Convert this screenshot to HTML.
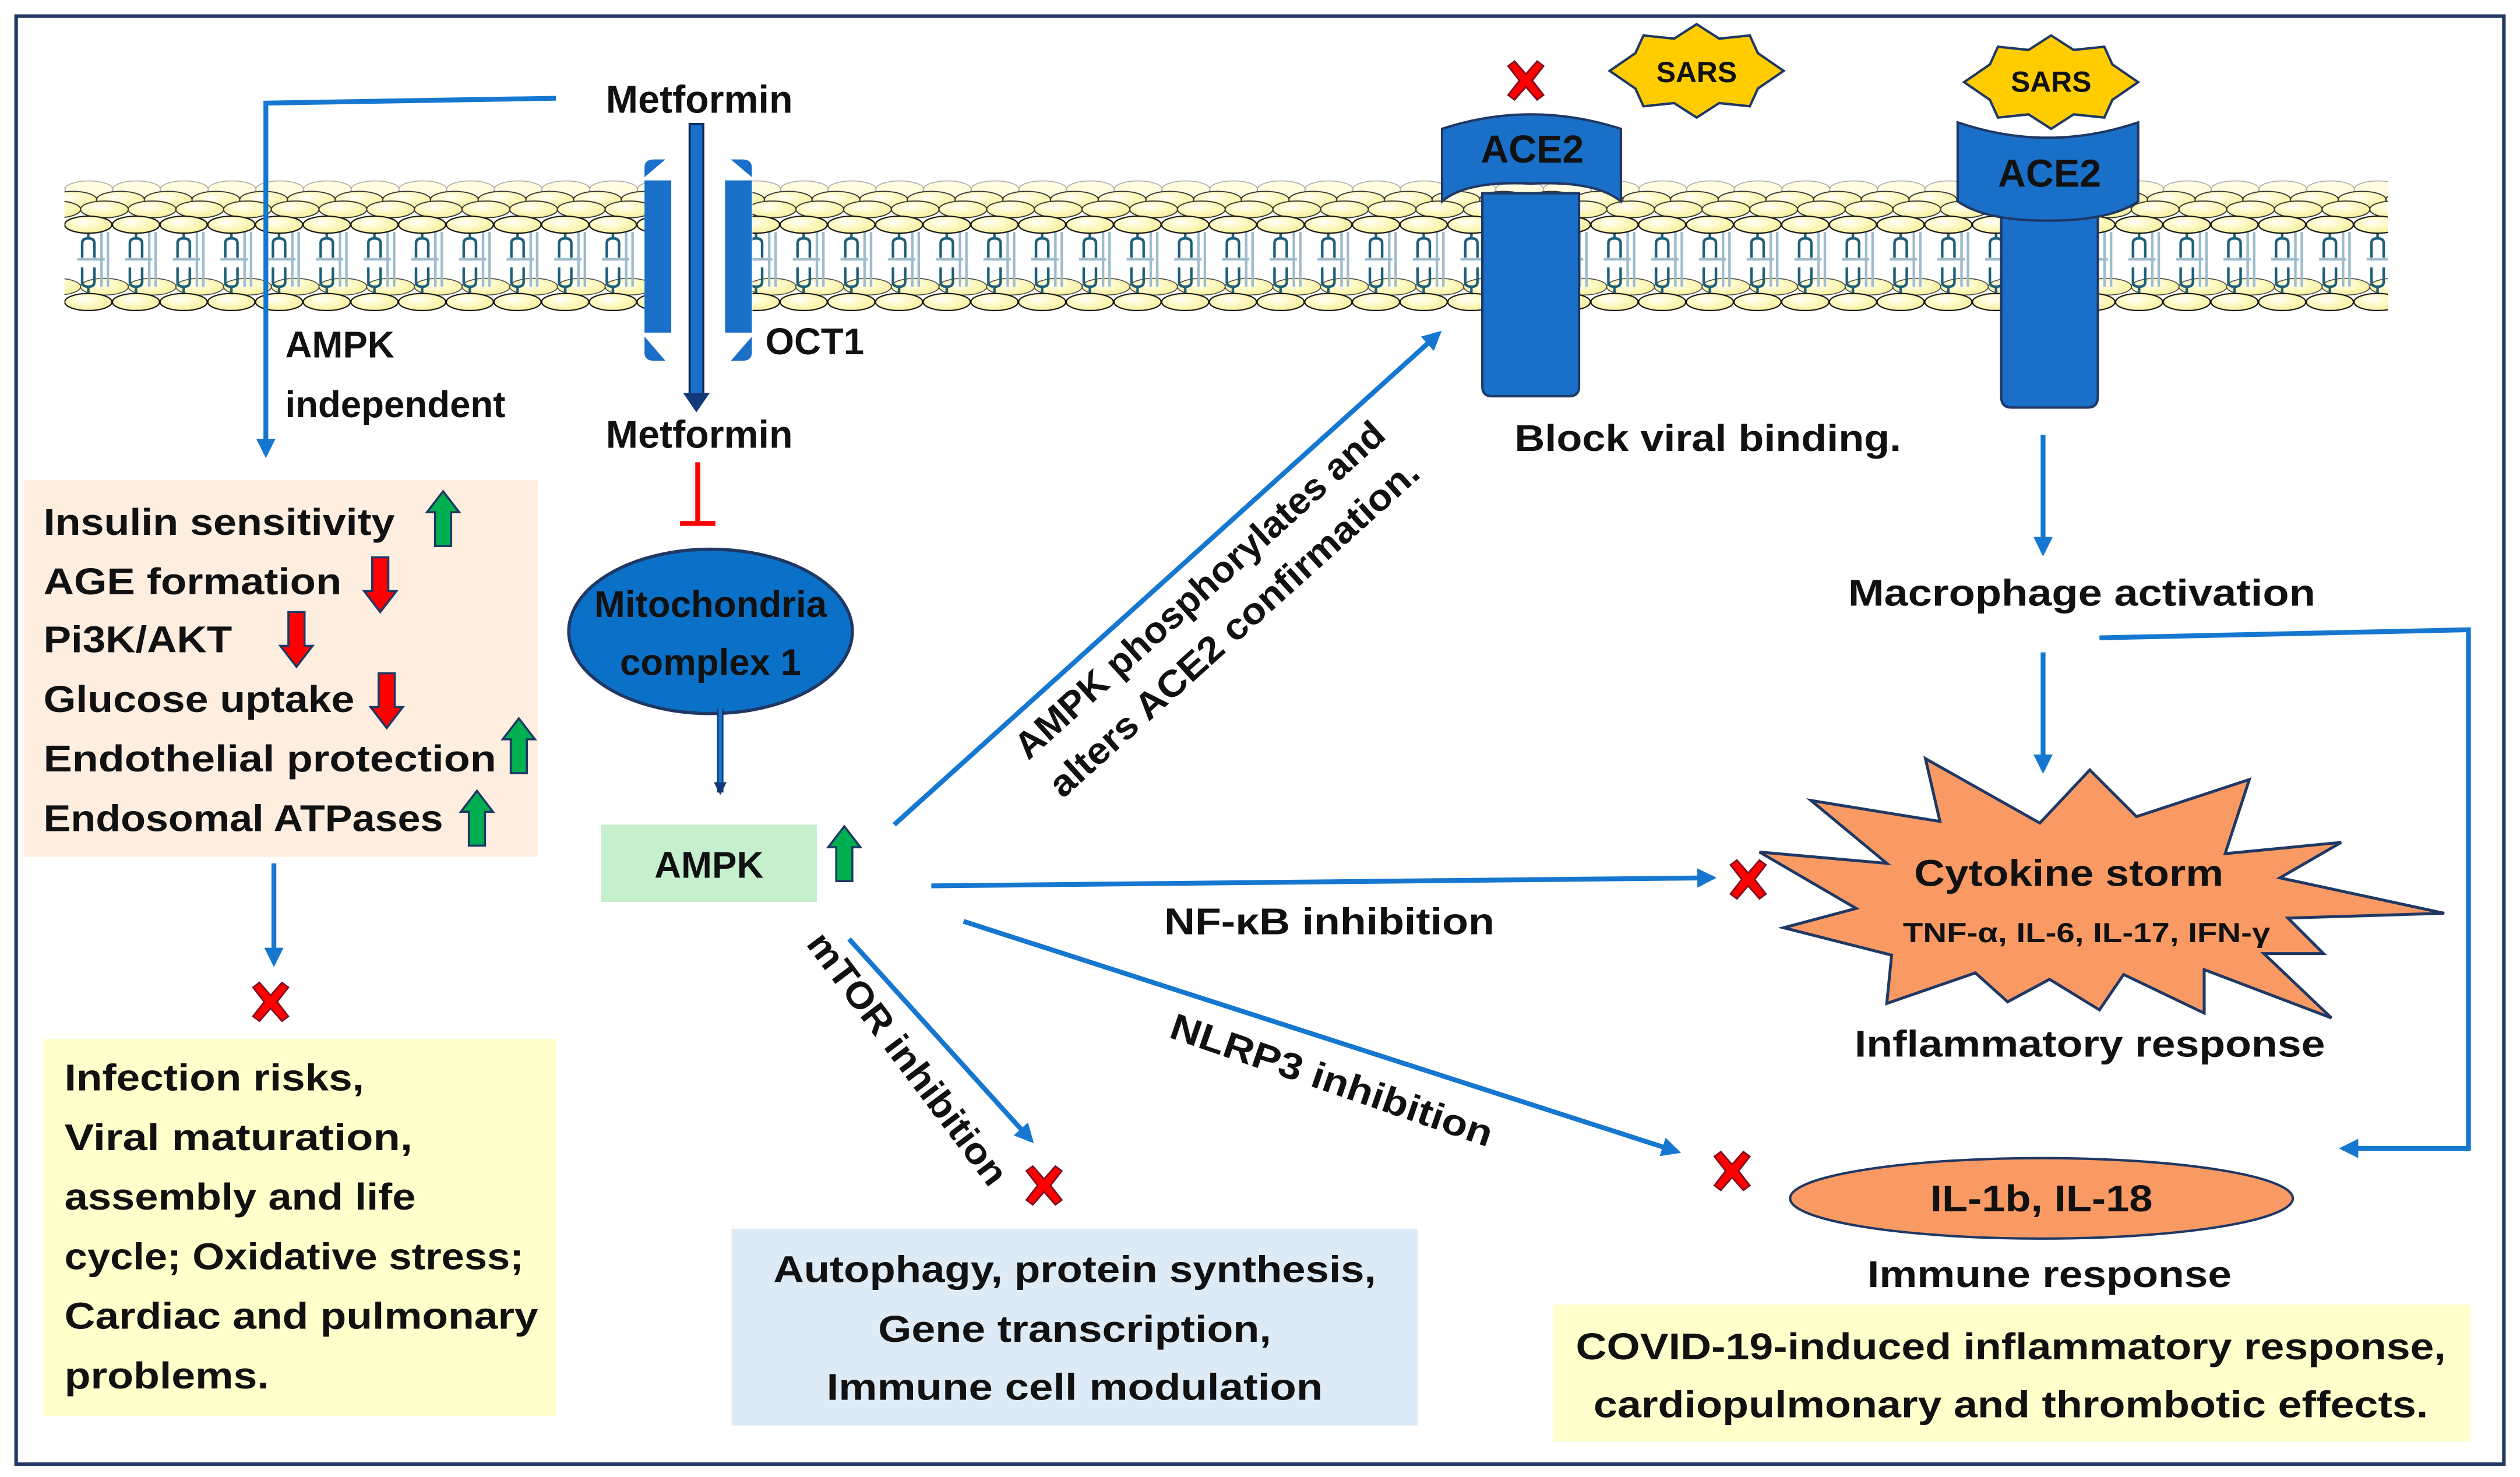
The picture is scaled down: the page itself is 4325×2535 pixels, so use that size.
<!DOCTYPE html>
<html><head><meta charset="utf-8"><style>
html,body{margin:0;padding:0;background:#fff;}
svg{display:block;}
text{font-family:"Liberation Sans",sans-serif;font-weight:bold;fill:#111;}
</style></head><body>
<svg width="4325" height="2535" viewBox="0 0 1564 917" preserveAspectRatio="none" xmlns="http://www.w3.org/2000/svg">
<defs>
<radialGradient id="hg" cx="0.4" cy="0.35" r="0.7">
 <stop offset="0" stop-color="#ffffff"/><stop offset="0.35" stop-color="#fffbd0"/><stop offset="1" stop-color="#f6ef9a"/>
</radialGradient>
<pattern id="mem" patternUnits="userSpaceOnUse" x="40" y="100" width="29.6" height="95">
 <g fill="#fffce0" stroke="#aaa" stroke-width="0.6">
  <ellipse cx="-14.4" cy="17.5" rx="14.8" ry="5.2"/><ellipse cx="15.2" cy="17.5" rx="14.8" ry="5.2"/><ellipse cx="44.8" cy="17.5" rx="14.8" ry="5.2"/>
 </g>
 <g fill="url(#hg)" stroke="#333" stroke-width="0.7">
  <ellipse cx="-24.4" cy="24" rx="14.8" ry="5.2"/><ellipse cx="5.2" cy="24" rx="14.8" ry="5.2"/><ellipse cx="34.8" cy="24" rx="14.8" ry="5.2"/>
  <ellipse cx="-4.8" cy="30" rx="14.8" ry="5.2"/><ellipse cx="24.8" cy="30" rx="14.8" ry="5.2"/><ellipse cx="54.4" cy="30" rx="14.8" ry="5.2"/>
 </g>
 <g fill="url(#hg)" stroke="#444" stroke-width="0.6">
  <ellipse cx="-4.8" cy="78" rx="14.8" ry="5.2"/><ellipse cx="24.8" cy="78" rx="14.8" ry="5.2"/><ellipse cx="54.4" cy="78" rx="14.8" ry="5.2"/>
 </g>
 <g stroke="#9dbccc" stroke-width="1.6" fill="none">
  <path d="M23,44 V78 M27,44 V78 M8,61 H25"/>
 </g>
 <g stroke="#1d5f78" stroke-width="1.6" fill="none">
  <path d="M14.8,44 V48 M11,60 V51 Q11,48 14.8,48 Q18.6,48 18.6,51 V60 M11,66 V75 Q11,78 14.8,78 Q18.6,78 18.6,75 V66 M14.8,78 V83"/>
 </g>
 <g fill="url(#hg)" stroke="#111" stroke-width="0.8">
  <ellipse cx="14.8" cy="39.5" rx="14.6" ry="5.3"/><ellipse cx="44.4" cy="39.5" rx="14.6" ry="5.3"/><ellipse cx="-14.8" cy="39.5" rx="14.6" ry="5.3"/>
  <ellipse cx="14.8" cy="87.5" rx="14.6" ry="5.3"/><ellipse cx="44.4" cy="87.5" rx="14.6" ry="5.3"/><ellipse cx="-14.8" cy="87.5" rx="14.6" ry="5.3"/>
 </g>
</pattern>
<marker id="ah" viewBox="0 0 10 10" refX="8" refY="5" markerWidth="4" markerHeight="4" orient="auto-start-reverse" markerUnits="strokeWidth">
 <path d="M0,0 L10,5 L0,10 Z" fill="#1577cf"/>
</marker>
<marker id="ahn" viewBox="0 0 10 10" refX="8" refY="5" markerWidth="4" markerHeight="4" orient="auto" markerUnits="strokeWidth">
 <path d="M0,0 L10,5 L0,10 Z" fill="#123a7a"/>
</marker>
<g id="up"><path d="M0,-17 L10,-4 L5,-4 L5,17 L-5,17 L-5,-4 L-10,-4 Z" fill="#00b050" stroke="#1f3864" stroke-width="1.3"/></g>
<g id="dn"><path d="M0,17 L10,4 L5,4 L5,-17 L-5,-17 L-5,4 L-10,4 Z" fill="#ff0000" stroke="#1f3864" stroke-width="1.3"/></g>
<g id="x"><path d="M-11,-9 L-7,-12 L0,-4 L7,-12 L11,-9 L4,0 L11,9 L7,12 L0,4 L-7,12 L-11,9 L-4,0 Z" fill="#ff0000" stroke="#7a1020" stroke-width="1"/></g>
</defs>
<rect x="0" y="0" width="1564" height="917" fill="#fff"/>
<rect x="10" y="10" width="1544" height="899" fill="none" stroke="#1f3864" stroke-width="2.2"/>

<!-- membrane -->
<rect x="40" y="108" width="1442" height="87" fill="url(#mem)"/>

<!-- OCT1 transporter -->
<rect x="400" y="96" width="67" height="132" fill="#fff"/>
<g fill="#1a6fc8">
 <rect x="400" y="112" width="16.6" height="94.5"/>
 <rect x="450" y="112" width="16.6" height="94.5"/>
 <path d="M400,110 L400,104 Q400,99 406,99 L413,99 Z"/>
 <path d="M466.6,110 L466.6,104 Q466.6,99 460.6,99 L453.6,99 Z"/>
 <path d="M400,209 L400,219 Q400,224 406,224 L413,224 Z"/>
 <path d="M466.6,209 L466.6,219 Q466.6,224 460.6,224 L453.6,224 Z"/>
</g>
<rect x="428" y="77" width="8.5" height="168" fill="#1a6fc8" stroke="#0f2a5a" stroke-width="1.3"/>
<path d="M424,244 L440.5,244 L432.2,256 Z" fill="#123a7a"/>

<!-- ACE2 left -->
<g fill="#1a6fc8" stroke="#1f3864" stroke-width="1.5">
 <path d="M920,120 L980,120 L980,240 Q980,246 974,246 L926,246 Q920,246 920,240 Z"/>
 <path d="M895,80 Q950,62 1006,80 L1006,125 Q990,112 950,114 Q910,112 895,125 Z"/>
</g>
<text x="951" y="101" font-size="24" text-anchor="middle">ACE2</text>
<use href="#x" x="947" y="50"/>
<!-- ACE2 right -->
<g fill="#1a6fc8" stroke="#1f3864" stroke-width="1.5">
 <path d="M1242,120 L1302,120 L1302,246 Q1302,253 1296,253 L1248,253 Q1242,253 1242,246 Z"/>
 <path d="M1215,76 Q1271,95 1327,76 L1327,125 Q1310,137 1271,137 Q1232,137 1215,125 Z"/>
</g>
<text x="1272" y="116" font-size="24" text-anchor="middle">ACE2</text>
<!-- SARS -->
<g fill="#ffcc00" stroke="#1f3864" stroke-width="1.5">
 <polygon points="1053,15 1067,24 1086,22 1091,33 1107,44 1091,55 1086,66 1067,64 1053,73 1039,64 1020,66 1015,55 999,44 1015,33 1020,22 1039,24"/>
 <polygon points="1273,22 1287,31 1306,29 1311,40 1327,51 1311,62 1306,73 1287,71 1273,80 1259,71 1240,73 1235,62 1219,51 1235,40 1240,29 1259,31"/>
</g>
<text x="1053" y="51" font-size="18" text-anchor="middle">SARS</text>
<text x="1273" y="57" font-size="18" text-anchor="middle">SARS</text>

<!-- Metformin & left -->
<text x="434" y="70" font-size="24" text-anchor="middle">Metformin</text>
<polyline points="345,61 165,64 165,282" fill="none" stroke="#1577cf" stroke-width="3" marker-end="url(#ah)"/>
<text x="177" y="222" font-size="23">AMPK</text>
<text x="177" y="259" font-size="23">independent</text>
<text x="475" y="220" font-size="23">OCT1</text>
<text x="434" y="278" font-size="24" text-anchor="middle">Metformin</text>
<line x1="433" y1="287" x2="433" y2="324" stroke="#ff0000" stroke-width="3"/>
<line x1="422" y1="325" x2="444" y2="325" stroke="#ff0000" stroke-width="3"/>

<ellipse cx="441" cy="392" rx="88" ry="51" fill="#0a70c8" stroke="#1f3864" stroke-width="2"/>
<text x="441" y="383" font-size="23" text-anchor="middle">Mitochondria</text>
<text x="441" y="419" font-size="23" text-anchor="middle">complex 1</text>
<line x1="447" y1="440" x2="447" y2="492" stroke="#123a7a" stroke-width="4"/>
<line x1="447" y1="440" x2="447" y2="492" stroke="#1577cf" stroke-width="2" marker-end="url(#ahn)"/>

<rect x="373" y="512" width="134" height="48" fill="#c6efce"/>
<text x="440" y="545" font-size="23" text-anchor="middle">AMPK</text>
<use href="#up" x="524" y="530"/>

<!-- left box -->
<rect x="15" y="298" width="319" height="234" fill="#fdeee0"/>
<g font-size="23">
<text x="27" y="332" textLength="218" lengthAdjust="spacingAndGlyphs">Insulin sensitivity</text>
<text x="27" y="369" textLength="185" lengthAdjust="spacingAndGlyphs">AGE formation</text>
<text x="27" y="405" textLength="117" lengthAdjust="spacingAndGlyphs">Pi3K/AKT</text>
<text x="27" y="442" textLength="193" lengthAdjust="spacingAndGlyphs">Glucose uptake</text>
<text x="27" y="479" textLength="281" lengthAdjust="spacingAndGlyphs">Endothelial protection</text>
<text x="27" y="516" textLength="248" lengthAdjust="spacingAndGlyphs">Endosomal ATPases</text>
</g>
<use href="#up" x="275" y="322"/>
<use href="#dn" x="236" y="363"/>
<use href="#dn" x="184" y="397"/>
<use href="#dn" x="240" y="435"/>
<use href="#up" x="322" y="463"/>
<use href="#up" x="296" y="508"/>

<line x1="170" y1="536" x2="170" y2="598" stroke="#1577cf" stroke-width="3" marker-end="url(#ah)"/>
<use href="#x" x="168" y="622"/>
<rect x="27" y="645" width="318" height="234" fill="#ffffcc"/>
<g font-size="23">
<text x="40" y="677" textLength="186" lengthAdjust="spacingAndGlyphs">Infection risks,</text>
<text x="40" y="714" textLength="216" lengthAdjust="spacingAndGlyphs">Viral maturation,</text>
<text x="40" y="751" textLength="218" lengthAdjust="spacingAndGlyphs">assembly and life</text>
<text x="40" y="788" textLength="285" lengthAdjust="spacingAndGlyphs">cycle; Oxidative stress;</text>
<text x="40" y="825" textLength="294" lengthAdjust="spacingAndGlyphs">Cardiac and pulmonary</text>
<text x="40" y="862" textLength="127" lengthAdjust="spacingAndGlyphs">problems.</text>
</g>

<!-- bottom center box -->
<rect x="454" y="763" width="426" height="122" fill="#ddebf7"/>
<g font-size="23" text-anchor="middle">
<text x="667" y="796" textLength="374" lengthAdjust="spacingAndGlyphs">Autophagy, protein synthesis,</text>
<text x="667" y="833" textLength="244" lengthAdjust="spacingAndGlyphs">Gene transcription,</text>
<text x="667" y="869" textLength="308" lengthAdjust="spacingAndGlyphs">Immune cell modulation</text>
</g>

<!-- AMPK arrows -->
<line x1="555" y1="512" x2="893" y2="207" stroke="#1577cf" stroke-width="3" marker-end="url(#ah)"/>
<g transform="translate(755,378) rotate(-42)" font-size="23" text-anchor="middle">
<text x="0" y="-8" textLength="300" lengthAdjust="spacingAndGlyphs">AMPK phosphorylates and</text>
<text x="0" y="24" textLength="300" lengthAdjust="spacingAndGlyphs">alters ACE2 confirmation.</text>
</g>
<line x1="578" y1="550" x2="1063" y2="545" stroke="#1577cf" stroke-width="3" marker-end="url(#ah)"/>
<text x="825" y="580" font-size="23" text-anchor="middle" textLength="205" lengthAdjust="spacingAndGlyphs">NF-κB inhibition</text>
<line x1="598" y1="572" x2="1041" y2="715" stroke="#1577cf" stroke-width="3" marker-end="url(#ah)"/>
<use href="#x" x="1075" y="727"/>
<text transform="translate(824,678) rotate(19)" font-size="23" text-anchor="middle" textLength="210" lengthAdjust="spacingAndGlyphs">NLRP3 inhibition</text>
<line x1="527" y1="583" x2="640" y2="708" stroke="#1577cf" stroke-width="3" marker-end="url(#ah)"/>
<use href="#x" x="648" y="736"/>
<text transform="translate(557,662) rotate(53)" font-size="23" text-anchor="middle" textLength="190" lengthAdjust="spacingAndGlyphs">mTOR inhibition</text>

<!-- right side -->
<text x="1060" y="280" font-size="23" text-anchor="middle" textLength="240" lengthAdjust="spacingAndGlyphs">Block viral binding.</text>
<line x1="1268" y1="270" x2="1268" y2="343" stroke="#1577cf" stroke-width="3" marker-end="url(#ah)"/>
<text x="1292" y="376" font-size="23" text-anchor="middle" textLength="290" lengthAdjust="spacingAndGlyphs">Macrophage activation</text>
<line x1="1268" y1="405" x2="1268" y2="478" stroke="#1577cf" stroke-width="3" marker-end="url(#ah)"/>
<polyline points="1303,396 1532,391 1532,713 1454,713" fill="none" stroke="#1577cf" stroke-width="3" marker-end="url(#ah)"/>

<polygon points="1195,471 1266,511 1297,478 1326,507 1396,484 1381,530 1453,523 1415,545 1517,567 1420,570 1442,592 1405,592 1447,632 1368,602 1368,629 1318,605 1303,627 1272,608 1246,622 1226,604 1171,623 1174,593 1107,576 1152,564 1092,529 1171,536 1124,497 1204,510" fill="#f99a64" stroke="#1f3864" stroke-width="1.8" stroke-linejoin="miter"/>
<use href="#x" x="1085" y="546"/>
<text x="1284" y="550" font-size="23" text-anchor="middle" textLength="192" lengthAdjust="spacingAndGlyphs">Cytokine storm</text>
<text x="1295" y="585" font-size="17" text-anchor="middle" textLength="228" lengthAdjust="spacingAndGlyphs">TNF-α, IL-6, IL-17, IFN-γ</text>
<text x="1297" y="656" font-size="23" text-anchor="middle" textLength="292" lengthAdjust="spacingAndGlyphs">Inflammatory response</text>

<ellipse cx="1267" cy="744" rx="156" ry="25" fill="#f99a64" stroke="#1f3864" stroke-width="1.5"/>
<text x="1267" y="752" font-size="23" text-anchor="middle" textLength="138" lengthAdjust="spacingAndGlyphs">IL-1b, IL-18</text>
<text x="1272" y="799" font-size="23" text-anchor="middle" textLength="226" lengthAdjust="spacingAndGlyphs">Immune response</text>

<rect x="964" y="810" width="569" height="85" fill="#ffffcc"/>
<text x="1248" y="844" font-size="23" text-anchor="middle" textLength="540" lengthAdjust="spacingAndGlyphs">COVID-19-induced inflammatory response,</text>
<text x="1248" y="880" font-size="23" text-anchor="middle" textLength="518" lengthAdjust="spacingAndGlyphs">cardiopulmonary and thrombotic effects.</text>
</svg>
</body></html>
